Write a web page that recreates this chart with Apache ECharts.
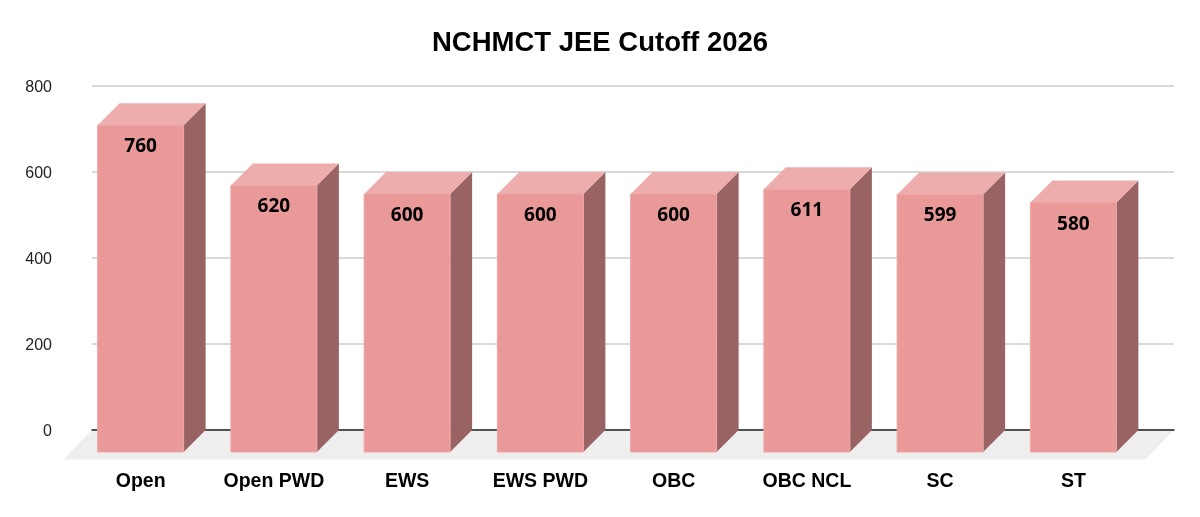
<!DOCTYPE html>
<html>
<head>
<meta charset="utf-8">
<style>html,body{margin:0;padding:0;background:#fff}#c{width:1200px;height:517px}</style>
<script src="https://cdn.jsdelivr.net/npm/echarts@6/dist/echarts.min.js"></script>
</head>
<body>
<div id="c"></div>
<script>
var titleText = 'NCHMCT JEE Cutoff 2026';
var categories = ['Open', 'Open PWD', 'EWS', 'EWS PWD', 'OBC', 'OBC NCL', 'SC', 'ST'];
var cutoffs = [760, 620, 600, 600, 600, 611, 599, 580];
var axisMax = 800;
var axisStep = 200;

var DEPTH = 22;
var BAR_W = 86;
var colors = { front: '#EA9999', edge: '#EFA5A5', top: '#EEADAD', side: '#996363', floor: '#EEEEEE' };

function renderFloor(params, api) {
  var cs = params.coordSys;
  var base = api.coord([0, 0])[1];
  var yb = base - DEPTH, yf = base + 7.5;
  var xl = cs.x, xr = cs.x + cs.width;
  return {
    type: 'polygon',
    shape: { points: [[xl + 18, yb], [xr + 34, yb], [xr + 5, yf], [xl - 11, yf]] },
    style: { fill: colors.floor }
  };
}

function renderBar(params, api) {
  var i = api.value(0), v = api.value(1);
  var t = api.coord([i, v]), b = api.coord([i, 0]);
  var xl = t[0] - BAR_W / 2, xr = t[0] + BAR_W / 2, yt = t[1], yb = b[1];
  return {
    type: 'group',
    children: [
      { type: 'polygon', shape: { points: [[xr, yt], [xr + DEPTH, yt - DEPTH], [xr + DEPTH, yb - DEPTH], [xr, yb]] },
        style: { fill: colors.side } },
      { type: 'polygon', shape: { points: [[xl, yt], [xl + DEPTH, yt - DEPTH], [xr + DEPTH, yt - DEPTH], [xr, yt]] },
        style: { fill: colors.top } },
      { type: 'rect', shape: { x: xl, y: yt, width: BAR_W, height: yb - yt },
        style: { fill: colors.front, stroke: colors.edge, lineWidth: 1 } },
      { type: 'text', style: { x: t[0], y: yt + 21.5, text: String(v), align: 'center', verticalAlign: 'middle',
          fill: '#000', font: 'bold 19px "Open Sans"' } }
    ]
  };
}

var chart = echarts.init(document.getElementById('c'), null, { renderer: 'canvas' });
chart.setOption({
  animation: false,
  backgroundColor: '#fff',
  title: { text: titleText, left: 595, top: 24.5, textAlign: 'center',
    textStyle: { fontFamily: 'Liberation Sans', fontWeight: 'bold', fontSize: 27.5, color: '#000' } },
  grid: [
    { left: 92, width: 1082, top: 86, height: 344 },
    { left: 74, width: 1066, top: 108, height: 344 }
  ],
  xAxis: [
    { gridIndex: 0, type: 'category', data: categories, z: 3,
      axisLine: { lineStyle: { color: '#222', width: 1.5 } }, axisTick: { show: false }, axisLabel: { show: false } },
    { gridIndex: 1, type: 'category', data: categories,
      axisLine: { show: false }, axisTick: { show: false },
      axisLabel: { margin: 20, interval: 0, color: '#000', fontFamily: 'Liberation Sans', fontWeight: 'bold', fontSize: 19.5 } }
  ],
  yAxis: [
    { gridIndex: 0, type: 'value', min: 0, max: axisMax, interval: axisStep,
      axisLine: { show: false }, axisTick: { show: false },
      axisLabel: { margin: 40, color: '#222', fontFamily: 'Liberation Sans', fontSize: 16,
        formatter: '{a|{value}}',
        rich: { a: { padding: [3, 0, 0, 0], color: '#222', fontFamily: 'Liberation Sans', fontSize: 16 } } },
      splitLine: { lineStyle: { color: '#CCCCCC', width: 1.5 } } },
    { gridIndex: 1, type: 'value', min: 0, max: axisMax, interval: axisStep, show: false, splitLine: { show: false } }
  ],
  series: [
    { type: 'custom', xAxisIndex: 1, yAxisIndex: 1, z: 1, silent: true, renderItem: renderFloor,
      data: [[0, 0]], encode: { x: 0, y: 1 } },
    { type: 'custom', xAxisIndex: 1, yAxisIndex: 1, z: 5, renderItem: renderBar,
      data: cutoffs.map(function (v, i) { return [i, v]; }), encode: { x: 0, y: 1 } }
  ]
});
</script>
</body>
</html>
